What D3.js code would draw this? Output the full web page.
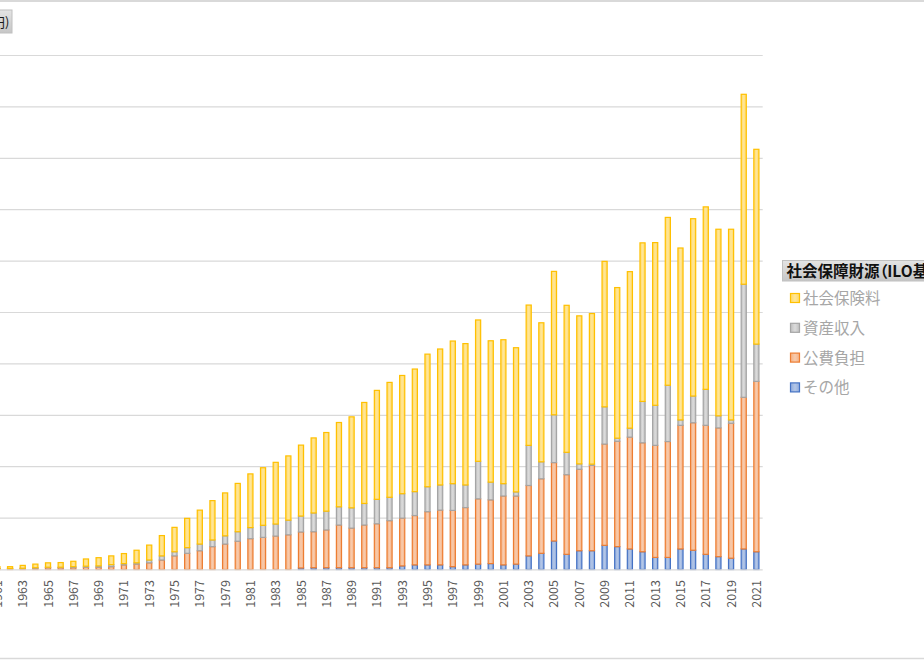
<!DOCTYPE html>
<html><head><meta charset="utf-8">
<script src="https://cdn.jsdelivr.net/npm/d3@7/dist/d3.min.js"></script>
<style>
html,body{margin:0;padding:0;background:#fff;overflow:hidden;}
svg{display:block;}
.palt{font-feature-settings:"palt";}
</style></head>
<body>
<script>
// Years 1961-2021 (兆円)
const years = d3.range(1961, 2022);
const sonota = [0,0,0,0,0,0,0,0,0,0, 0,0,0,0,0,0,0,0,0,0, 0,0,0,0,0.6,0.7,0.7,0.7,0.7,0.7,
  0.7,0.7,1.4,1.8,1.8,1.8,1.1,1.8,2.1,2.3, 1.8,2.1,5.3,6.3,11.1,5.9,7.3,7.3,9.4,8.9,
  8.0,6.9,4.7,4.7,8.0,7.5,5.9,5.0,4.4,8.0, 6.9];
const kohi = [0.3,0.3,0.4,0.5,0.7,0.7,0.7,0.9,0.9,1.1, 1.8,2.1,2.6,3.7,5.3,6.3,7.3,8.9,9.9,11.0,
  12.0,12.5,13.0,13.5,14.0,14.0,14.7,16.6,15.4,16.6, 17.1,18.3,18.6,19.2,20.7,21.3,21.9,22.3,25.4,24.8,
  26.8,26.5,27.4,29.0,30.5,31.0,31.7,33.2,39.4,41.0, 43.5,42.4,43.6,45.1,48.1,49.6,50.2,50.1,52.5,59.0,
  66.3];
const shisan = [0.1,0.1,0.1,0.2,0.2,0.2,0.4,0.4,0.5,0.8, 0.5,0.5,1.1,1.6,1.6,2.2,2.6,2.6,3.2,3.7,
  4.3,4.7,4.7,5.7,6.2,7.3,7.3,7.1,7.9,8.4, 9.5,9.1,9.5,9.3,9.7,9.8,10.4,8.8,14.6,6.9,
  4.8,1.6,15.6,6.6,18.6,8.7,2.1,0.5,14.5,1.2, 3.5,16.1,15.6,21.9,2.1,10.4,14.0,4.7,1.3,44.0,
  14.5];
const hokenryo = [0.7,0.7,1.1,1.4,1.7,1.8,2.1,2.8,3.2,3.4, 3.9,4.9,5.8,7.9,9.5,11.4,13.2,15.3,16.7,18.8,
  20.9,22.4,24.0,25.0,27.6,29.2,30.6,32.8,35.4,39.3, 42.4,44.7,46.0,47.7,51.6,52.9,55.5,55.0,55.0,55.0,
  56.0,56.1,54.6,54.1,55.8,57.2,57.6,58.6,56.6,58.6, 60.9,61.7,63.3,65.3,66.9,69.0,71.0,72.6,74.2,73.9,
  75.8];
const seriesNames = ["その他","公費負担","資産収入","社会保険料"];
const yTicks = d3.range(0, 201, 20);
const xLabels = years.filter(y => y % 2 === 1);
const legendTitle = "社会保障財源（ILO基準）";
const unitLabel = "(兆円)";

const W = 924, H = 660;
const svg = d3.select("body").append("svg").attr("width", W).attr("height", H);
const defs = svg.append("defs");

const colors = {
  "その他":    {fill:"#8faadc", light:"#b4c7e7", stroke:"#4472c4"},
  "公費負担":  {fill:"#f4b183", light:"#f8cbad", stroke:"#ed7d31"},
  "資産収入":  {fill:"#bfbfbf", light:"#dcdcdc", stroke:"#a5a5a5"},
  "社会保険料":{fill:"#ffd966", light:"#ffe699", stroke:"#ffc000"}
};
seriesNames.forEach((k,i) => {
  const g = defs.append("linearGradient").attr("id","g"+i).attr("x1","0").attr("x2","1").attr("y1","0").attr("y2","0");
  g.append("stop").attr("offset","0%").attr("stop-color",colors[k].fill);
  g.append("stop").attr("offset","50%").attr("stop-color",colors[k].light);
  g.append("stop").attr("offset","100%").attr("stop-color",colors[k].fill);
});
const bg = defs.append("linearGradient").attr("id","btn").attr("x1","0").attr("x2","0").attr("y1","0").attr("y2","1");
bg.append("stop").attr("offset","0%").attr("stop-color","#e4e4e4");
bg.append("stop").attr("offset","100%").attr("stop-color","#c6c6c6");

// chart frame lines
svg.append("line").attr("x1",0).attr("x2",W).attr("y1",1).attr("y2",1).attr("stroke","#d9d9d9").attr("stroke-width",2);
svg.append("line").attr("x1",0).attr("x2",W).attr("y1",658.5).attr("y2",658.5).attr("stroke","#d9d9d9").attr("stroke-width",1.5);

const x = d3.scaleBand().domain(years).range([-8.9, 762.7]).paddingInner(0.5).paddingOuter(0.25);
const y = d3.scaleLinear().domain([0, 200]).range([569.5, 55.5]);

// gridlines
svg.append("g").selectAll("line").data(yTicks.filter(t => t > 0)).join("line")
  .attr("x1", -9).attr("x2", 762.7)
  .attr("y1", d => y(d)).attr("y2", d => y(d))
  .attr("stroke", "#d9d9d9").attr("stroke-width", 1.2);

const table = years.map((yr,i) => ({year: yr, "その他": sonota[i], "公費負担": kohi[i], "資産収入": shisan[i], "社会保険料": hokenryo[i]}));
const stack = d3.stack().keys(seriesNames)(table);

stack.forEach((s, si) => {
  const key = seriesNames[si];
  svg.append("g").selectAll("rect").data(s.filter(d => d[1] - d[0] > 0)).join("rect")
    .attr("x", d => x(d.data.year) + 0.6)
    .attr("width", x.bandwidth() - 1.2)
    .attr("y", d => y(d[1]))
    .attr("height", d => Math.max(0.1, y(d[0]) - y(d[1])))
    .attr("fill", "url(#g"+si+")")
    .attr("stroke", colors[key].stroke)
    .attr("stroke-width", 1.2);
});

// x axis line
svg.append("line").attr("x1",-9).attr("x2",762.7).attr("y1",569.8).attr("y2",569.8).attr("stroke","#d9d9d9").attr("stroke-width",1.2);

// x tick labels
svg.append("g").selectAll("text").data(xLabels).join("text")
  .attr("transform", d => `translate(${x(d) + x.bandwidth()/2 + 4.5},580) rotate(-90)`)
  .attr("text-anchor","end")
  .attr("font-family","'Noto Sans CJK JP', 'Noto Sans', sans-serif")
  .attr("font-size", 12.5)
  .attr("fill","#595959")
  .text(d => d);

// unit button (cropped at left)
svg.append("rect").attr("x",-40).attr("y",10).attr("width",52).attr("height",23)
  .attr("fill","url(#btn)").attr("stroke","#c0c0c0");
svg.append("text").attr("x",9.5).attr("y",27).attr("text-anchor","end")
  .attr("font-family","'Noto Sans CJK JP', sans-serif").attr("font-size",13).attr("fill","#1a1a1a")
  .text(unitLabel);

// legend
const lg = svg.append("g");
lg.append("rect").attr("x",782.5).attr("y",260.5).attr("width",160).attr("height",20.5)
  .attr("fill","url(#btn)").attr("stroke","#c0c0c0");
lg.append("text").attr("class","palt").attr("x",786.5).attr("y",276.5)
  .attr("font-family","'Noto Sans CJK JP', sans-serif").attr("font-size",15.5).attr("font-weight","bold").attr("fill","#111")
  .text(legendTitle);
const legendOrder = ["社会保険料","資産収入","公費負担","その他"];
legendOrder.forEach((k,i) => {
  const cy = 298 + i*29.8;
  const si = seriesNames.indexOf(k);
  lg.append("rect").attr("x",790.5).attr("y",cy-4.5).attr("width",9).attr("height",9)
    .attr("fill","url(#g"+si+")").attr("stroke",colors[k].stroke).attr("stroke-width",1.2);
  lg.append("text").attr("x",803).attr("y",cy+6)
    .attr("font-family","'Noto Sans CJK JP', sans-serif").attr("font-size",15.5).attr("fill","#a6a6a6")
    .text(k);
});
</script>
</body></html>
